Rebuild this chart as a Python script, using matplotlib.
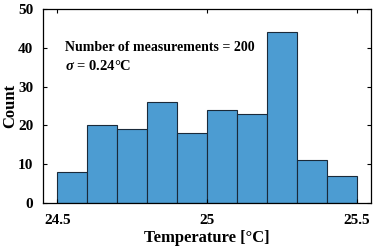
import matplotlib
matplotlib.use("Agg")
import matplotlib.pyplot as plt
import numpy as np

bin_edges = [24.5, 24.6, 24.7, 24.8, 24.9, 25.0, 25.1, 25.2, 25.3, 25.4, 25.5]
counts = [8, 20, 19, 26, 18, 24, 23, 44, 11, 7]
xticks = [24.5, 25, 25.5]
xtick_labels = ["24.5", "25", "25.5"]
yticks = [0, 10, 20, 30, 40, 50]

plt.rcParams['font.family'] = ['Liberation Serif', 'DejaVu Serif']
plt.rcParams['font.weight'] = 'bold'
plt.rcParams['mathtext.fontset'] = 'custom'
plt.rcParams['mathtext.it'] = 'Liberation Serif:italic:bold'
plt.rcParams['mathtext.rm'] = 'Liberation Serif:bold'

fig = plt.figure(figsize=(3.74, 2.48), dpi=100)
ax = fig.add_axes([43/374, 1-203/248, (371-43)/374, (203-9)/248])

ax.hist(bin_edges[:-1], bins=bin_edges, weights=counts,
        color='#4c9cd2', edgecolor='#1a2a3a', linewidth=0.8)

ax.set_xlim(24.452, 25.547)
ax.set_ylim(0, 50)
ax.set_xticks(xticks)
ax.set_xticklabels(xtick_labels)
ax.set_yticks(yticks)
ax.tick_params(direction='in', top=True, right=True, labelsize=11, length=3, width=0.8)
ax.tick_params(axis='x', pad=8)
ax.tick_params(axis='y', pad=7)
for lab in ax.get_xticklabels() + ax.get_yticklabels():
    lab.set_fontweight('bold')
for s in ax.spines.values():
    s.set_linewidth(0.9)

ax.set_xlabel('Temperature [°C]', fontsize=12, fontweight='bold', labelpad=2)
ax.set_ylabel('Count', fontsize=12, fontweight='bold', labelpad=0)

ax.text(0.066, 0.80, 'Number of measurements = 200', transform=ax.transAxes,
        fontsize=10, fontweight='bold', va='center', ha='left')
ax.text(0.066, 0.705, r'$\sigma$ = 0.24°C', transform=ax.transAxes,
        fontsize=10.5, fontweight='bold', va='center', ha='left')

fig.savefig('out.png', dpi=100)
